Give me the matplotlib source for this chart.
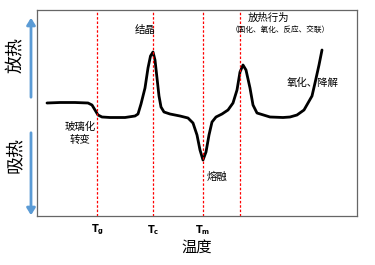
import matplotlib
matplotlib.use('Agg')
import matplotlib.pyplot as plt

plt.rcParams['font.family'] = ['Noto Sans CJK SC', 'DejaVu Sans']

# DSC curve (x: temperature, y: heat flow, up = exothermic)
temp = [10, 23, 38, 51, 55, 58, 61, 65, 73, 88, 98, 101, 104, 108, 111, 113.5, 116,
        118, 120, 122, 124, 127, 133, 143, 151, 156, 160, 163, 166, 169, 172, 175,
        179, 185, 191, 196, 200, 203, 206, 209, 213, 216, 220, 233, 246, 253, 260,
        267, 271, 275, 278, 282, 285]
heat = [113, 113.5, 113.5, 113, 111, 106, 101, 99, 98.5, 98.5, 100, 102, 112, 128,
        148, 160, 164, 156, 138, 120, 109, 104, 102, 100, 98, 93, 81, 66, 56, 64, 81,
        94, 99, 102, 106, 113, 126, 144, 151, 146, 128, 111, 103, 99, 98.5, 99, 101,
        106, 113, 120, 133, 151, 166]

vlines = [60, 116, 166, 203]
tick_pos = [60, 116, 166]
tick_lab = [r'$\mathbf{T_g}$', r'$\mathbf{T_c}$', r'$\mathbf{T_m}$']

fig = plt.figure(figsize=(3.75, 2.65), dpi=100)
ax = fig.add_axes([37/375, 49/265, 320/375, 206/265])

ax.plot(temp, heat, color='black', lw=2.0, solid_capstyle='round')
for v in vlines:
    ax.axvline(v, color='red', lw=0.9, ls=(0, (2, 1.5)))

ax.set_xlim(0, 320)
ax.set_ylim(0, 206)
ax.set_yticks([])
ax.set_xticks(tick_pos)
ax.set_xticklabels(tick_lab, fontsize=7)
ax.tick_params(axis='x', length=0, pad=5)
for s in ax.spines.values():
    s.set_color('#666666')
    s.set_linewidth(0.9)

ax.text(43, 89, '玻璃化', fontsize=7.5, ha='center', va='center')
ax.text(43, 76, '转变', fontsize=7.5, ha='center', va='center')
ax.text(108, 186, '结晶', fontsize=7.5, ha='center', va='center')
ax.text(231, 198, '放热行为', fontsize=7.5, ha='center', va='center')
ax.text(243, 186, '（固化、氧化、反应、交联）', fontsize=5.5, ha='center', va='center')
ax.text(276, 133, '氧化、降解', fontsize=7.5, ha='center', va='center')
ax.text(180, 39, '熔融', fontsize=7.5, ha='center', va='center')

ax.set_xlabel('温度', fontsize=11, labelpad=1)

# exo / endo arrows on the left
fig.patches.append(matplotlib.patches.FancyArrowPatch(
    (31/375, 165/265), (31/375, 250/265), transform=fig.transFigure,
    arrowstyle='-|>,head_width=2.5,head_length=4', color='#5B9BD5', lw=2))
fig.patches.append(matplotlib.patches.FancyArrowPatch(
    (31/375, 135/265), (31/375, 47/265), transform=fig.transFigure,
    arrowstyle='-|>,head_width=2.5,head_length=4', color='#5B9BD5', lw=2))
fig.text(15/375, 1 - 55/265, '放热', fontsize=13, rotation=90, ha='center', va='center')
fig.text(15/375, 1 - 155/265, '吸热', fontsize=13, rotation=90, ha='center', va='center')

fig.savefig('out.png', dpi=100)
